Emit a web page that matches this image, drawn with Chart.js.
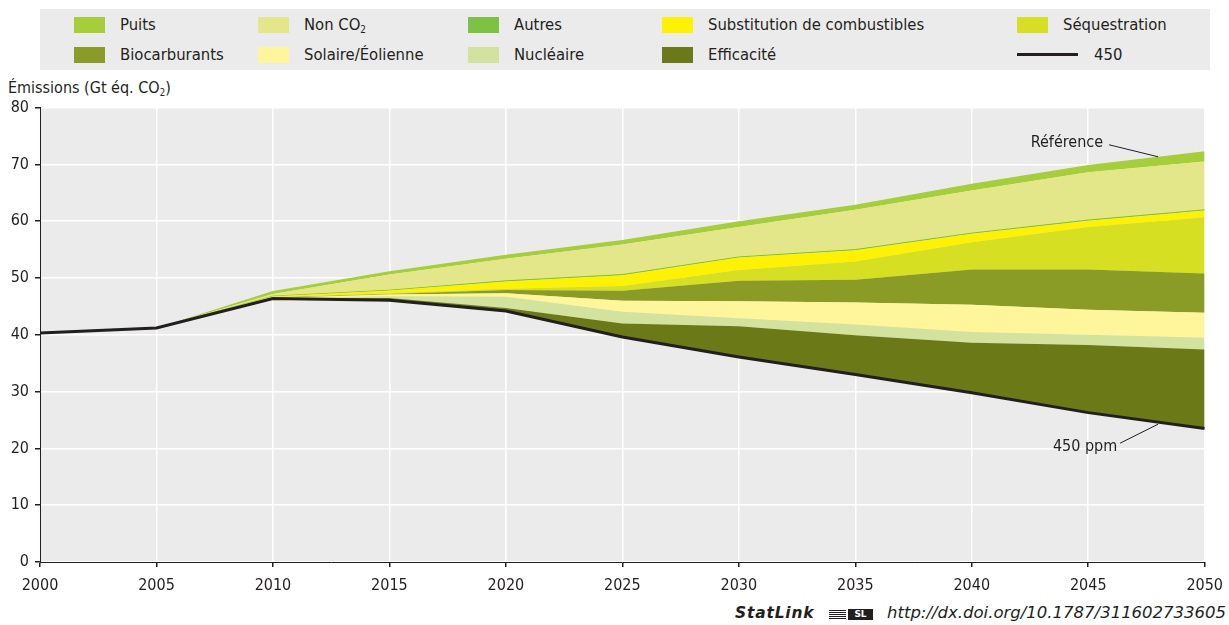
<!DOCTYPE html>
<html lang="fr">
<head>
<meta charset="utf-8">
<script src="https://cdn.jsdelivr.net/npm/chart.js@4.4.1/dist/chart.umd.min.js"></script>
<style>
  html, body { margin: 0; padding: 0; background: #fff; }
  body { width: 1229px; height: 625px; position: relative; overflow: hidden;
         font-family: 'Liberation Sans Narrow', 'DejaVu Sans Condensed', 'Roboto', sans-serif; color: #231f20; }
  #legend { position: absolute; left: 40px; top: 9px; width: 1170px; height: 61px; background: #ebebeb; }
  .item { position: absolute; height: 16px; font-size: 16.5px; line-height: 16px; white-space: nowrap; }
  .sw { position: absolute; left: 0; top: 0; width: 31px; height: 16px; }
  .ln { position: absolute; left: 0; top: 6px; width: 61px; height: 3px; background: #231f20; }
  .lab { position: absolute; top: 0; }
  sub { font-size: 60%; vertical-align: -3px; line-height: 0; }
  #ytitle { position: absolute; left: 8px; top: 78px; font-size: 16px; white-space: nowrap; }
  #wrap { position: absolute; left: 0; top: 92px; width: 1232px; height: 501px; }
  #foot { position: absolute; top: 603px; left: 0; width: 1229px; height: 22px; }
  #stat { position: absolute; left: 735px; top: 1px; font-family: 'DejaVu Sans', sans-serif; font-weight: bold; font-style: italic; font-size: 15.5px; letter-spacing: 0.8px; }
  #icon { position: absolute; left: 829px; top: 6px; width: 44px; height: 11px; }
  #icon .st { position: absolute; left: 0; top: 1px; width: 17px; height: 9px;
              background: repeating-linear-gradient(180deg, #231f20 0 1px, #fff 1px 2px); }
  #icon .bx { position: absolute; left: 19px; top: 0; width: 25px; height: 11px; background: #231f20; color: #fff;
              font: bold 9px/11px 'DejaVu Sans', sans-serif; text-align: center; }
  #url { position: absolute; left: 887px; top: 0; font-family: 'DejaVu Sans', sans-serif; font-style: italic; font-size: 16.5px; }
</style>
</head>
<body>
<div id="legend"></div>
<div id="ytitle">Émissions (Gt éq. CO<sub>2</sub>)</div>
<div id="wrap"><canvas id="c" width="1232" height="501"></canvas></div>
<div id="foot">
  <span id="stat">StatLink</span>
  <span id="icon"><span class="st"></span><span class="bx">SL</span></span>
  <span id="url">http://dx.doi.org/10.1787/311602733605</span>
</div>
<script>
// Emissions pathways, Gt CO2-eq, five-year steps
const years = [2000, 2005, 2010, 2015, 2020, 2025, 2030, 2035, 2040, 2045, 2050];

// 450 ppm stabilisation pathway (base line of the wedges)
const ppm450 = [40.3, 41.2, 46.4, 46.1, 44.2, 39.6, 36.1, 33.0, 29.8, 26.3, 23.5];

// Abatement wedges, stacked from the 450 line up to the reference path
const efficacite    = [0, 0, 0,    0.4,  0.5, 2.4,  5.4, 6.9, 8.8, 11.9, 13.9];
const nucleaire     = [0, 0, 0.05, 0.3,  2.0, 2.05, 1.4, 1.9, 1.9, 1.8,  2.1];
const solaire       = [0, 0, 0.05, 0.3,  0.6, 1.95, 3.0, 3.9, 4.8, 4.4,  4.4];
const biocarburants = [0, 0, 0.05, 0.1,  0.6, 1.75, 3.6, 4.0, 6.2, 7.1,  6.9];
const sequestration = [0, 0, 0.05, 0.1,  0.2, 0.85, 1.9, 3.2, 4.8, 7.5,  9.9];
const substitution  = [0, 0, 0.2,  0.5,  1.3, 1.9,  2.2, 2.0, 1.5, 1.1,  1.2];
const autres        = [0, 0, 0,    0.05, 0.1, 0.1,  0.1, 0.1, 0.1, 0.1,  0.1];
const nonCO2        = [0, 0, 0.4,  2.75, 3.9, 5.3,  5.3, 7.0, 7.5, 8.4,  8.5];
const puits         = [0, 0, 0.5,  0.6,  0.7, 0.8,  1.0, 0.9, 1.2, 1.3,  1.8];

const yTicks = [0, 10, 20, 30, 40, 50, 60, 70, 80];

const FONT = "'Liberation Sans Narrow', 'DejaVu Sans Condensed', 'Roboto', sans-serif";
const INK = '#231f20';

// wedges in stacking order (bottom to top)
const wedges = [
  { key: 'eff',  label: 'Efficacité',                   data: efficacite,    color: '#6b7a17' },
  { key: 'nuc',  label: 'Nucléaire',                    data: nucleaire,     color: '#d3e29d' },
  { key: 'sol',  label: 'Solaire/Éolienne',             data: solaire,       color: '#fff59a' },
  { key: 'bio',  label: 'Biocarburants',                data: biocarburants, color: '#8a9c25' },
  { key: 'seq',  label: 'Séquestration',                data: sequestration, color: '#d6df22' },
  { key: 'sub',  label: 'Substitution de combustibles', data: substitution,  color: '#fff200' },
  { key: 'aut',  label: 'Autres',                       data: autres,        color: '#7dc242' },
  { key: 'non',  label: 'Non CO<sub>2</sub>',           data: nonCO2,        color: '#e3e78a' },
  { key: 'pui',  label: 'Puits',                        data: puits,         color: '#a6ce39' }
];

// legend grid: two rows of five columns
const legendRows = [
  ['pui', 'non', 'aut', 'sub', 'seq'],
  ['bio', 'sol', 'nuc', 'eff', 'line']
];
const legendCols = [34, 218, 428, 622, 977];
const legendRowTop = [8, 38];

const legendEl = document.getElementById('legend');
legendRows.forEach((row, r) => {
  row.forEach((key, c) => {
    const it = document.createElement('div');
    it.className = 'item';
    it.style.left = legendCols[c] + 'px';
    it.style.top = legendRowTop[r] + 'px';
    if (key === 'line') {
      it.innerHTML = '<span class="ln"></span><span class="lab" style="left:77px">450</span>';
    } else {
      const w = wedges.find(d => d.key === key);
      it.innerHTML = '<span class="sw" style="background:' + w.color + '"></span>' +
                     '<span class="lab" style="left:46px">' + w.label + '</span>';
    }
    legendEl.appendChild(it);
  });
});

const pts = arr => years.map((y, i) => ({ x: y, y: arr[i] }));

const datasets = [
  {
    label: '450',
    data: pts(ppm450),
    borderColor: INK,
    borderWidth: 3,
    fill: false,
    pointRadius: 0,
    tension: 0
  }
].concat(wedges.map(w => ({
  label: w.label,
  data: pts(w.data),
  backgroundColor: w.color,
  borderColor: w.key === 'aut' ? w.color : 'rgba(0,0,0,0)',
  borderWidth: w.key === 'aut' ? 1 : 0,
  fill: '-1',
  pointRadius: 0,
  tension: 0
})));

// linear interpolation along the year axis
function interp(arr, yr) {
  for (let i = 0; i < years.length - 1; i++) {
    if (yr >= years[i] && yr <= years[i + 1]) {
      const t = (yr - years[i]) / (years[i + 1] - years[i]);
      return arr[i] + (arr[i + 1] - arr[i]) * t;
    }
  }
  return arr[arr.length - 1];
}
const reference = years.map((_, i) => ppm450[i] + wedges.reduce((s, w) => s + w.data[i], 0));

const plotBg = {
  id: 'plotBg',
  beforeDraw(chart) {
    const { ctx, chartArea: a } = chart;
    ctx.save();
    ctx.fillStyle = '#ebebeb';
    ctx.fillRect(a.left, a.top, a.right - a.left, a.bottom - a.top);
    ctx.restore();
  }
};

const callouts = {
  id: 'callouts',
  afterDatasetsDraw(chart) {
    const { ctx, scales: { x, y } } = chart;
    const at = 2048;
    const px = x.getPixelForValue(at);
    const pyTop = y.getPixelForValue(interp(reference, at));
    const pyLow = y.getPixelForValue(interp(ppm450, at));
    ctx.save();
    ctx.strokeStyle = INK;
    ctx.lineWidth = 1;
    ctx.fillStyle = INK;
    ctx.font = '16px ' + FONT;
    ctx.textBaseline = 'middle';
    // Référence
    ctx.beginPath();
    ctx.moveTo(px, pyTop);
    ctx.lineTo(px - 49, pyTop - 12);
    ctx.stroke();
    ctx.textAlign = 'right';
    ctx.fillText('Référence', px - 55, pyTop - 14);
    // 450 ppm
    ctx.beginPath();
    ctx.moveTo(px, pyLow + 2);
    ctx.lineTo(px - 38, pyLow + 21);
    ctx.stroke();
    ctx.textAlign = 'center';
    ctx.fillText('450 ppm', px - 73, pyLow + 25);
    ctx.restore();
  }
};

new Chart(document.getElementById('c'), {
  type: 'line',
  data: { datasets },
  plugins: [plotBg, callouts],
  options: {
    responsive: false,
    animation: false,
    events: [],
    layout: { padding: { top: 4, right: 19, left: 0, bottom: 0 } },
    plugins: { legend: { display: false }, tooltip: { enabled: false } },
    scales: {
      x: {
        type: 'linear',
        min: years[0],
        max: years[years.length - 1],
        afterBuildTicks: s => { s.ticks = years.map(v => ({ value: v })); },
        afterFit: s => { s.height = 31; },
        ticks: { color: INK, font: { family: FONT, size: 16 }, padding: 9, maxRotation: 0, callback: v => String(v) },
        grid: { color: '#ffffff', lineWidth: 1.5, tickColor: INK, tickLength: 5 },
        border: { color: INK, width: 1 }
      },
      y: {
        stacked: true,
        min: yTicks[0],
        max: yTicks[yTicks.length - 1],
        afterBuildTicks: s => { s.ticks = yTicks.map(v => ({ value: v })); },
        afterFit: s => { s.width = 40; },
        ticks: { color: INK, font: { family: FONT, size: 16 }, padding: 6 },
        grid: { color: '#ffffff', lineWidth: 1.5, tickColor: INK, tickLength: 5 },
        border: { color: INK, width: 1 }
      }
    }
  }
});
</script>
</body>
</html>
